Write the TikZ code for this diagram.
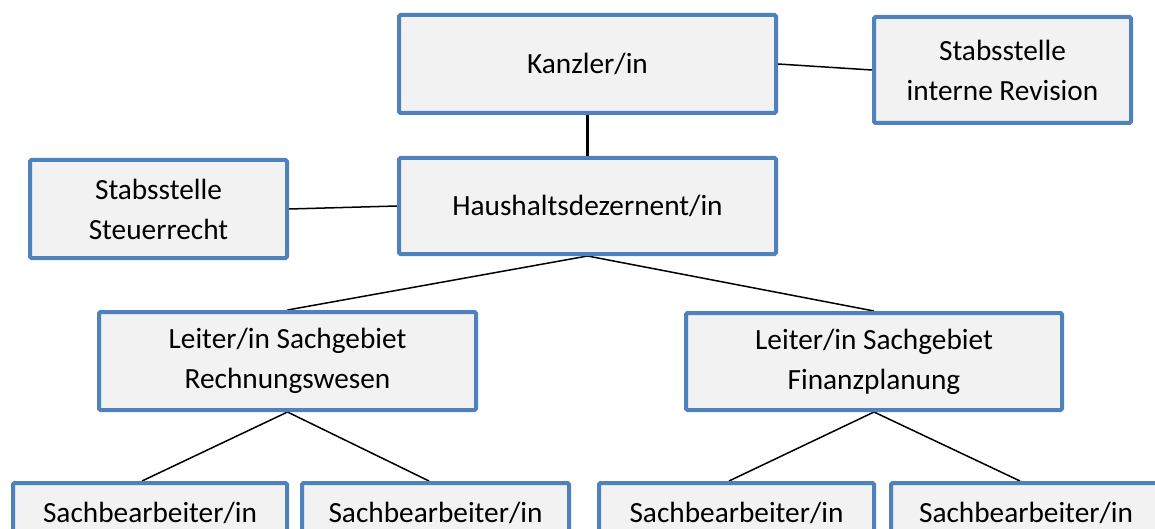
\documentclass[tikz,border=0pt]{standalone}
\usepackage{fontspec}
\setmainfont{Carlito}
\usetikzlibrary{backgrounds}
\definecolor{boxblue}{HTML}{4F81BD}
\definecolor{boxfill}{HTML}{F2F2F2}
\begin{document}
\begin{tikzpicture}[x=1pt,y=-1pt,
  orgbox/.style={draw=boxblue, fill=boxfill, line width=4pt, rounded corners=1.5pt,
    inner sep=0pt, align=center, font=\fontsize{29.3}{40}\selectfont},
  link/.style={line width=1.5pt, black},
  trunk/.style={line width=3pt, black}]
\useasboundingbox (0,0) rectangle (1155,529);
\clip (0,0) rectangle (1155,529);

% management level
\node[orgbox, minimum width=377, minimum height=98]  (k)   at (587.5,64)  {Kanzler/in};
\node[orgbox, minimum width=257, minimum height=106] (rev) at (1002.5,70) {Stabsstelle\\interne Revision};
\node[orgbox, minimum width=377, minimum height=96]  (h)   at (587.5,206) {Haushaltsdezernent/in};
\node[orgbox, minimum width=257, minimum height=98]  (st)  at (158.5,209) {Stabsstelle\\Steuerrecht};

% department heads
\node[orgbox, minimum width=377, minimum height=98] (rw) at (287.5,361) {Leiter/in Sachgebiet\\Rechnungswesen};
\node[orgbox, minimum width=376, minimum height=97] (fp) at (874,361.5) {Leiter/in Sachgebiet\\Finanzplanung};

% clerks
\node[orgbox, minimum width=274, minimum height=60] (b1) at (150,513)   {Sachbearbeiter/in};
\node[orgbox, minimum width=267, minimum height=60] (b2) at (435.5,513) {Sachbearbeiter/in};
\node[orgbox, minimum width=275, minimum height=60] (b3) at (736.5,513) {Sachbearbeiter/in};
\node[orgbox, minimum width=270, minimum height=60] (b4) at (1026,513)  {Sachbearbeiter/in};

\begin{pgfonlayer}{background}
  \draw[link]  (k.east)  -- (rev.west);
  \draw[trunk] (k.south) -- (h.north);
  \draw[link]  (st.east) -- (h.west);
  \draw[link]  (h.south) -- (rw.north);
  \draw[link]  (h.south) -- (fp.north);
  \draw[link]  (rw.south) -- ([xshift=-8pt]b1.north);
  \draw[link]  (rw.south) -- ([xshift=-6.5pt]b2.north);
  \draw[link]  (fp.south) -- ([xshift=-7.5pt]b3.north);
  \draw[link]  (fp.south) -- ([xshift=-6pt]b4.north);
\end{pgfonlayer}
\end{tikzpicture}
\end{document}
